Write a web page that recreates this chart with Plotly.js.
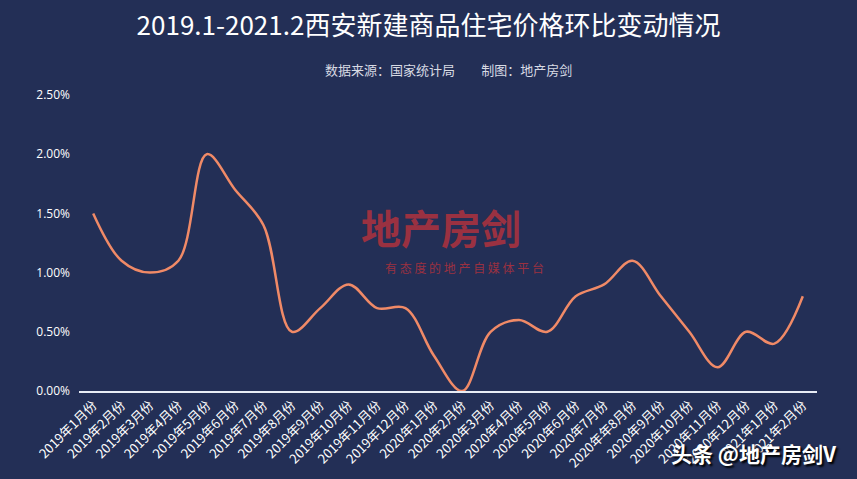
<!DOCTYPE html>
<html>
<head>
<meta charset="utf-8">
<script src="https://cdn.plot.ly/plotly-3.0.1.min.js"></script>
<style>
html,body{margin:0;padding:0;background:#232f56;}
#chart{width:857px;height:479px;}
</style>
</head>
<body>
<div id="chart"></div>
<script>
const months = ["2019年1月份","2019年2月份","2019年3月份","2019年4月份","2019年5月份","2019年6月份","2019年7月份","2019年8月份","2019年9月份","2019年10月份","2019年11月份","2019年12月份","2020年1月份","2020年2月份","2020年3月份","2020年4月份","2020年5月份","2020年6月份","2020年7月份","2020年年8月份","2020年9月份","2020年10月份","2020年11月份","2020年12月份","2021年1月份","2021年2月份"];
const changePct = [1.5,1.1,1.0,1.1,2.0,1.7,1.4,0.5,0.7,0.9,0.7,0.7,0.3,0.0,0.5,0.6,0.5,0.8,0.9,1.1,0.8,0.5,0.2,0.5,0.4,0.8];
const yTicks = [0,0.5,1.0,1.5,2.0,2.5];
const yTickLabels = ["0.00%","0.50%","1.00%","1.50%","2.00%","2.50%"];

const trace = {
  x: months,
  y: changePct,
  type: 'scatter',
  mode: 'lines',
  line: {color: '#f08a67', width: 2.5, shape: 'spline', smoothing: 1},
  hoverinfo: 'x+y'
};

const layout = {
  width: 857, height: 479,
  paper_bgcolor: '#232f56',
  plot_bgcolor: '#232f56',
  margin: {l: 79, r: 40, t: 95, b: 88},
  showlegend: false,
  font: {family: '"Noto Sans CJK SC", "Open Sans", sans-serif', color: '#ffffff'},
  title: {
    text: '2019.1-2021.2西安新建商品住宅价格环比变动情况',
    font: {size: 26, color: '#ffffff', family: '"Noto Sans CJK SC", sans-serif'},
    x: 0.5, xanchor: 'center', y: 0.945, yanchor: 'middle'
  },
  xaxis: {
    type: 'category',
    range: [-0.5, 25.5],
    showgrid: false,
    zeroline: false,
    showline: true,
    linecolor: '#e8ecf5',
    linewidth: 1.5,
    ticks: '',
    tickangle: -45,
    tickfont: {size: 13, color: '#ffffff', family: '"Noto Sans CJK SC", sans-serif'},
    automargin: false
  },
  yaxis: {
    range: [0, 2.5],
    tickvals: yTicks,
    ticktext: yTickLabels,
    showgrid: false,
    zeroline: false,
    showline: false,
    ticks: '',
    ticklen: 0,
    ticklabelstandoff: 8,
    tickfont: {size: 12, color: '#ffffff', family: '"Open Sans", sans-serif'},
    automargin: false
  },
  annotations: [
    {text: '数据来源：国家统计局&nbsp;&nbsp;&nbsp;&nbsp;&nbsp;&nbsp;&nbsp;&nbsp;&nbsp;制图：地产房剑', xref: 'paper', yref: 'paper', x: 0.5, y: 1.0, yshift: 26, showarrow: false, xanchor: 'center', yanchor: 'middle', font: {size: 13, color: '#d8dbe4', family: '"Noto Sans CJK SC", sans-serif'}},
    {text: '<b>地产房剑</b>', xref: 'paper', yref: 'paper', x: 0.49, y: 0.553, showarrow: false, xanchor: 'center', yanchor: 'middle', font: {size: 40, color: '#a7323f', family: '"Noto Sans CJK SC", sans-serif'}, opacity: 0.9},
    {text: '有 态 度 的 地 产 自 媒 体 平 台', xref: 'paper', yref: 'paper', x: 0.523, y: 0.418, showarrow: false, xanchor: 'center', yanchor: 'middle', font: {size: 12, color: '#a7323f', family: '"Noto Sans CJK SC", sans-serif'}, opacity: 0.9},
    {text: '<b>头条 @地产房剑V</b>', xref: 'paper', yref: 'paper', x: 1.03, y: -0.21, showarrow: false, xanchor: 'right', yanchor: 'middle', font: {size: 21, color: '#ffffff', family: '"Noto Sans CJK SC", sans-serif', shadow: '2px 2px 2px #000'}}
  ]
};

Plotly.newPlot('chart', [trace], layout, {displayModeBar: false, staticPlot: true});
</script>
</body>
</html>
